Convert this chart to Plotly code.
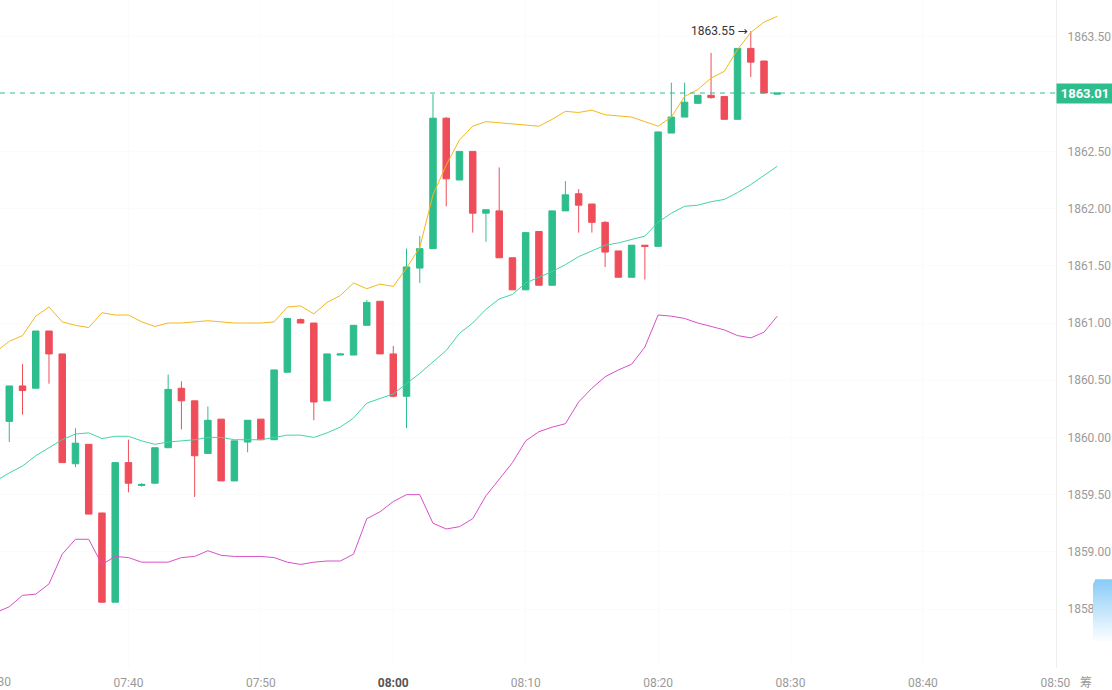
import plotly.graph_objects as go
import pandas as pd

# ---------------- data ----------------
times = pd.date_range("2024-05-20 07:30", periods=60, freq="min")

opens = [1860.30, 1860.14, 1860.45, 1860.43, 1860.93, 1860.73, 1859.77, 1859.94, 1859.34, 1858.56,
         1859.78, 1859.58, 1859.60, 1859.91, 1860.43, 1860.32, 1859.86, 1860.16, 1859.62, 1859.96,
         1860.16, 1859.98, 1860.57, 1861.03, 1861.00, 1860.32, 1860.72, 1860.72, 1860.98, 1861.19,
         1860.73, 1860.36, 1861.48, 1861.65, 1862.79, 1862.25, 1862.50, 1861.96, 1861.98, 1861.57,
         1861.29, 1861.80, 1861.33, 1861.98, 1862.13, 1862.04, 1861.88, 1861.63, 1861.40, 1861.68,
         1861.67, 1862.66, 1862.80, 1862.92, 1862.99, 1862.98, 1862.78, 1863.40, 1863.29, 1863.00]
highs = [1860.36, 1860.45, 1860.64, 1860.93, 1860.93, 1860.73, 1860.08, 1859.94, 1859.34, 1859.78,
         1859.98, 1859.60, 1859.91, 1860.55, 1860.49, 1860.32, 1860.27, 1860.16, 1859.97, 1860.15,
         1860.16, 1860.59, 1861.04, 1861.04, 1861.00, 1860.73, 1860.73, 1860.98, 1861.20, 1861.19,
         1860.80, 1861.65, 1861.76, 1863.00, 1862.80, 1862.50, 1862.50, 1861.99, 1862.36, 1861.57,
         1861.79, 1861.80, 1861.98, 1862.24, 1862.17, 1862.04, 1861.89, 1861.63, 1861.68, 1861.68,
         1862.67, 1863.10, 1863.10, 1862.99, 1863.36, 1862.98, 1863.40, 1863.55, 1863.29, 1863.01]
lows = [1860.10, 1859.96, 1860.20, 1860.43, 1860.47, 1859.78, 1859.74, 1859.33, 1858.56, 1858.56,
        1859.52, 1859.57, 1859.60, 1859.91, 1860.07, 1859.48, 1859.86, 1859.62, 1859.62, 1859.87,
        1859.98, 1859.98, 1860.57, 1861.00, 1860.15, 1860.32, 1860.72, 1860.72, 1860.98, 1860.73,
        1860.35, 1860.08, 1861.35, 1861.65, 1862.02, 1862.25, 1861.79, 1861.71, 1861.57, 1861.29,
        1861.29, 1861.33, 1861.33, 1861.98, 1861.79, 1861.79, 1861.49, 1861.40, 1861.40, 1861.38,
        1861.67, 1862.66, 1862.80, 1862.92, 1862.96, 1862.78, 1862.78, 1863.15, 1863.01, 1863.00]
closes = [1860.16, 1860.45, 1860.41, 1860.93, 1860.73, 1859.78, 1859.95, 1859.33, 1858.56, 1859.78,
          1859.60, 1859.59, 1859.91, 1860.42, 1860.32, 1859.84, 1860.15, 1859.62, 1859.97, 1860.15,
          1859.98, 1860.59, 1861.04, 1861.00, 1860.31, 1860.73, 1860.73, 1860.98, 1861.18, 1860.73,
          1860.36, 1861.49, 1861.65, 1862.79, 1862.26, 1862.50, 1861.96, 1861.99, 1861.57, 1861.29,
          1861.79, 1861.33, 1861.98, 1862.12, 1862.03, 1861.88, 1861.62, 1861.40, 1861.68, 1861.67,
          1862.67, 1862.80, 1862.93, 1862.99, 1862.97, 1862.78, 1863.40, 1863.28, 1863.01, 1863.01]

boll_upper = [1860.75, 1860.84, 1860.89, 1861.06, 1861.14, 1861.01, 1860.98, 1860.96, 1861.09, 1861.07,
              1861.07, 1861.01, 1860.97, 1861.00, 1861.00, 1861.01, 1861.02, 1861.01, 1861.00, 1861.00,
              1861.00, 1861.01, 1861.14, 1861.15, 1861.08, 1861.18, 1861.24, 1861.35, 1861.30, 1861.34,
              1861.32, 1861.48, 1861.66, 1862.12, 1862.38, 1862.60, 1862.72, 1862.76, 1862.75, 1862.74,
              1862.73, 1862.72, 1862.78, 1862.85, 1862.84, 1862.86, 1862.82, 1862.81, 1862.80, 1862.76,
              1862.72, 1862.80, 1862.98, 1863.04, 1863.14, 1863.20, 1863.39, 1863.54, 1863.63, 1863.68]
boll_mid = [1859.62, 1859.69, 1859.75, 1859.84, 1859.91, 1859.98, 1860.03, 1860.04, 1859.99, 1860.01,
            1860.01, 1859.97, 1859.94, 1859.96, 1859.97, 1859.98, 1860.00, 1860.00, 1859.98, 1859.98,
            1859.98, 1860.00, 1860.02, 1860.02, 1860.00, 1860.04, 1860.09, 1860.17, 1860.30, 1860.34,
            1860.38, 1860.47, 1860.56, 1860.66, 1860.76, 1860.91, 1861.00, 1861.12, 1861.21, 1861.25,
            1861.35, 1861.40, 1861.45, 1861.51, 1861.58, 1861.63, 1861.68, 1861.70, 1861.73, 1861.76,
            1861.88, 1861.96, 1862.02, 1862.03, 1862.06, 1862.08, 1862.14, 1862.21, 1862.29, 1862.37]
boll_lower = [1858.47, 1858.52, 1858.62, 1858.63, 1858.72, 1858.98, 1859.11, 1859.11, 1858.89, 1858.96,
              1858.95, 1858.91, 1858.91, 1858.91, 1858.95, 1858.96, 1859.01, 1858.97, 1858.96, 1858.96,
              1858.96, 1858.95, 1858.91, 1858.89, 1858.91, 1858.92, 1858.92, 1858.98, 1859.29, 1859.35,
              1859.44, 1859.50, 1859.50, 1859.25, 1859.20, 1859.22, 1859.29, 1859.49, 1859.63, 1859.78,
              1859.97, 1860.05, 1860.09, 1860.12, 1860.31, 1860.43, 1860.53, 1860.59, 1860.64, 1860.79,
              1861.07, 1861.06, 1861.04, 1861.00, 1860.97, 1860.94, 1860.89, 1860.87, 1860.92, 1861.06]

last_price = 1863.01
x_tick_times = ["07:40", "07:50", "08:00", "08:10", "08:20", "08:30", "08:40", "08:50"]
x_tick_labels = ["07:40", "07:50", "<b><span style='color:#555555'>08:00</span></b>",
                 "08:10", "08:20", "08:30", "08:40", "08:50"]
y_ticks = [1858.5, 1859.0, 1859.5, 1860.0, 1860.5, 1861.0, 1861.5, 1862.0, 1862.5, 1863.5]

# ---------------- style ----------------
GREEN = "#2ebd8c"
RED = "#ef4d5a"
UPPER_C = "#f5b81a"
MID_C = "#45d3aa"
LOW_C = "#d94fc8"
TICK_C = "#9a9a9a"
FONT = "Roboto"

day = "2024-05-20 "
x_range = [pd.Timestamp(day + "07:30:18"), pd.Timestamp(day + "08:50:03")]
y_range = [1857.985, 1863.823]
PLOT_W = 1056.0
PLOT_H = 670.0

fig = go.Figure()

fig.add_trace(go.Scatter(x=times, y=boll_upper, mode="lines",
                         line=dict(color=UPPER_C, width=1), hoverinfo="skip"))
fig.add_trace(go.Scatter(x=times, y=boll_mid, mode="lines",
                         line=dict(color=MID_C, width=1), hoverinfo="skip"))
fig.add_trace(go.Scatter(x=times, y=boll_lower, mode="lines",
                         line=dict(color=LOW_C, width=1), hoverinfo="skip"))

fig.add_trace(go.Candlestick(
    x=times, open=opens, high=highs, low=lows, close=closes,
    increasing=dict(line=dict(color=GREEN, width=1), fillcolor=GREEN),
    decreasing=dict(line=dict(color=RED, width=1), fillcolor=RED),
    whiskerwidth=0,
))

# current price dashed line
fig.add_shape(type="line", xref="paper", x0=0, x1=1, yref="y", y0=last_price, y1=last_price,
              line=dict(color=GREEN, width=1, dash="5px,5px"), layer="above")

# current price tag on axis
fig.add_annotation(xref="paper", x=1, xanchor="left", yref="y", y=last_price, yanchor="middle",
                   text="<b>%.2f</b>" % last_price, showarrow=False,
                   font=dict(family=FONT, size=13, color="white"),
                   bgcolor=GREEN, width=56, height=19, borderpad=0, align="center")

# max-high marker
imax = max(range(len(highs)), key=lambda i: highs[i])
fig.add_annotation(x=times[imax] - pd.Timedelta(seconds=3), xanchor="right",
                   y=highs[imax], yanchor="middle",
                   text="%.2f <span style='font-family:DejaVu Sans'>→</span>" % highs[imax],
                   showarrow=False,
                   font=dict(family=FONT, size=12, color="#333333"))

# partially visible 07:30 label at the left edge
fig.add_annotation(xref="paper", x=-4 / PLOT_W, xanchor="center", yref="paper", y=-14 / PLOT_H,
                   yanchor="middle", text="07:30", showarrow=False,
                   font=dict(family=FONT, size=12, color=TICK_C))
# cut-off CJK text at bottom right
fig.add_annotation(xref="paper", x=1086 / PLOT_W, xanchor="center", yref="paper", y=-14 / PLOT_H,
                   yanchor="middle", text="筹", showarrow=False,
                   font=dict(family="Noto Sans CJK SC", size=12, color=TICK_C))

# floating blue widget (overlapping rects approximating a vertical gradient)
top_c = (138, 204, 248)
y0px = 581
steps = 40
for k in range(steps):
    t = k / (steps - 1)
    f = min(1.0, t * 1.25)
    c = tuple(int(round(top_c[j] + (255 - top_c[j]) * f)) for j in range(3))
    ya = y0px + k * 2
    x0px = 1093 if k > 1 else 1095 - k
    fig.add_shape(type="rect", xref="paper", yref="paper",
                  x0=x0px / PLOT_W, x1=1114 / PLOT_W,
                  y0=(PLOT_H - 692) / PLOT_H, y1=(PLOT_H - ya) / PLOT_H,
                  fillcolor="rgb(%d,%d,%d)" % c, line=dict(width=0), layer="above")

fig.update_layout(
    width=1112, height=690,
    margin=dict(l=0, r=56, t=0, b=20),
    paper_bgcolor="white", plot_bgcolor="white",
    showlegend=False,
    font=dict(family=FONT, size=12, color=TICK_C),
    xaxis=dict(
        type="date", range=x_range, rangeslider=dict(visible=False),
        tickvals=[pd.Timestamp(day + t) for t in x_tick_times], ticktext=x_tick_labels,
        showgrid=True, gridcolor="#fbfbfb", gridwidth=1, zeroline=False,
        ticks="outside", ticklen=4, tickcolor="rgba(0,0,0,0)",
        tickfont=dict(family=FONT, size=12, color=TICK_C), showline=False,
    ),
    yaxis=dict(
        side="right", range=y_range, tickvals=y_ticks, tickformat=".2f",
        showgrid=True, gridcolor="#fbfbfb", gridwidth=1, zeroline=False,
        ticks="outside", ticklen=8, tickcolor="rgba(0,0,0,0)",
        tickfont=dict(family=FONT, size=12, color=TICK_C),
        showline=True, linecolor="#eeeeee", linewidth=1,
    ),
    hovermode=False,
)

fig.write_html("out.html")
